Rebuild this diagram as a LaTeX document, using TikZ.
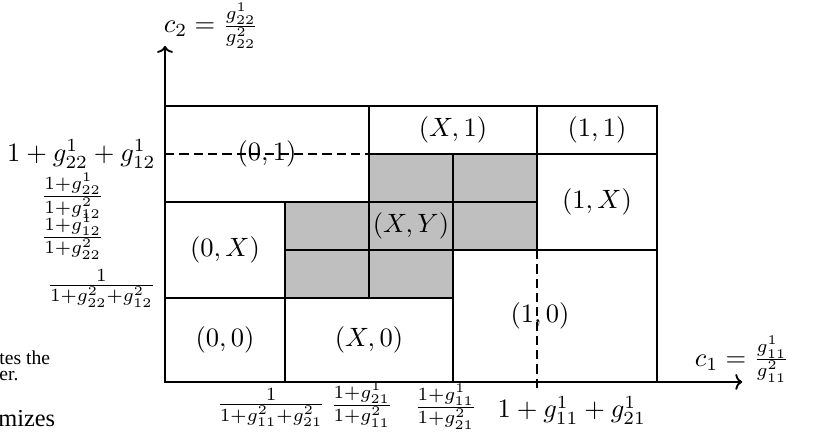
\documentclass[tikz,border=0pt]{standalone}
\usepackage{latexsym,amssymb}
\usepackage{fontspec}
\newfontfamily\tnr{Liberation Serif}
\usetikzlibrary{calc,shapes,arrows.meta}

\begin{document}
\begin{tikzpicture}[x=0.1591cm,y=0.1591cm,line width=0.52pt,
    grey/.style={draw,fill=gray!50},
    gap/.style={dash pattern=on 3.5pt off 1.9pt},
    axis/.style={-{To[length=2.6pt,width=6pt]},line width=0.7pt},
    frag/.style={anchor=base west,inner sep=0pt}]
          \useasboundingbox (-13.75,-4.5) rectangle (54.5,31.83);
          \draw[grey] (10,7) rectangle (17,11);
          \draw[grey] (17,7) rectangle (24,11);
          \draw[grey] (10,11) rectangle (17,15);
          \draw[grey] (17,11) rectangle (24,15);
          \draw[grey] (24,11) rectangle (31,15);
          \draw[grey] (17,15) rectangle (24,19);
          \draw[grey] (24,15) rectangle (31,19);
          \draw (0,0) rectangle (10,7);
          \draw (10,0) rectangle (24,7);
          \draw (24,0) rectangle (41,11);
          \draw (0,7) rectangle (10,15);
          \draw (0,15) rectangle (17,23);
          \draw (17,19) rectangle (31,23);
          \draw (31,19) rectangle (41,23);
          \draw (31,11) rectangle (41,19);
          \coordinate (o) at (0,0);
          \coordinate (xtip) at (48.1,0);
          \coordinate (ytip) at (0,28);
          \draw[axis] (o) -- (xtip);
          \draw[axis] (o) -- (ytip);
          \node (c1) at (48.1,1.9) {$c_1 = \frac{g^1_{11}}{g^2_{11}}$};
          \node (c2) at (3.85,29.7) {$c_2 = \frac{g^1_{22}}{g^2_{22}}$};
          \node (s01) at (8.5,19) {$(0,1)$};
          \node (sX1) at (24,21) {$(X,1)$};
          \node (s11) at (36,21) {$(1,1)$};
          \node (s1X) at (36,15) {$(1,X)$};
          \node (sXY) at (20.5,13) {$(X,Y)$};
          \node (s0X) at (5,11) {$(0,X)$};
          \node (s00) at (5,3.5) {$(0,0)$};
          \node (sX0) at (17,3.5) {$(X,0)$};
          \node (s10) at (31.25,5.5) {$(1,0)$};
          \node[anchor=east] (ty1) at (0,19) {$1+g^1_{22}+g^1_{12}$};
          \node (ty2) at (-7.7,15.5) {$\frac{1+g^1_{22}}{1+g^2_{12}}$};
          \node (ty3) at (-7.7,12.1) {$\frac{1+g^1_{12}}{1+g^2_{22}}$};
          \node (ty4) at (-5.3,7.8) {$\frac{1}{1+g^2_{22}+g^2_{12}}$};
          \node (tx1) at (8.85,-2.15) {$\frac{1}{1+g^2_{11}+g^2_{21}}$};
          \node (tx2) at (16.4,-1.9) {$\frac{1+g^1_{21}}{1+g^2_{11}}$};
          \node (tx3) at (23.4,-2.05) {$\frac{1+g^1_{11}}{1+g^2_{21}}$};
          \node (tx4) at (33.9,-2.35) {$1+g^1_{11}+g^1_{21}$};
          \coordinate (d1) at (17,19);
          \coordinate (d2) at (31,11);
          \coordinate (d3) at (31,-0.5);
          \draw[gap] (ty1.east) -- (d1);
          \draw[gap] (d2) -- (d3);
          \node[frag,font=\tnr\fontsize{7.4}{9}\selectfont] (f1) at (-13.85,1.42) {tes the};
          \node[frag,font=\tnr\fontsize{7.4}{9}\selectfont] (f2) at (-13.85,0.15) {er.};
          \node[frag,font=\tnr\fontsize{9.2}{11}\selectfont] (f3) at (-13.95,-3.75) {mizes};
        \end{tikzpicture}
\end{document}
